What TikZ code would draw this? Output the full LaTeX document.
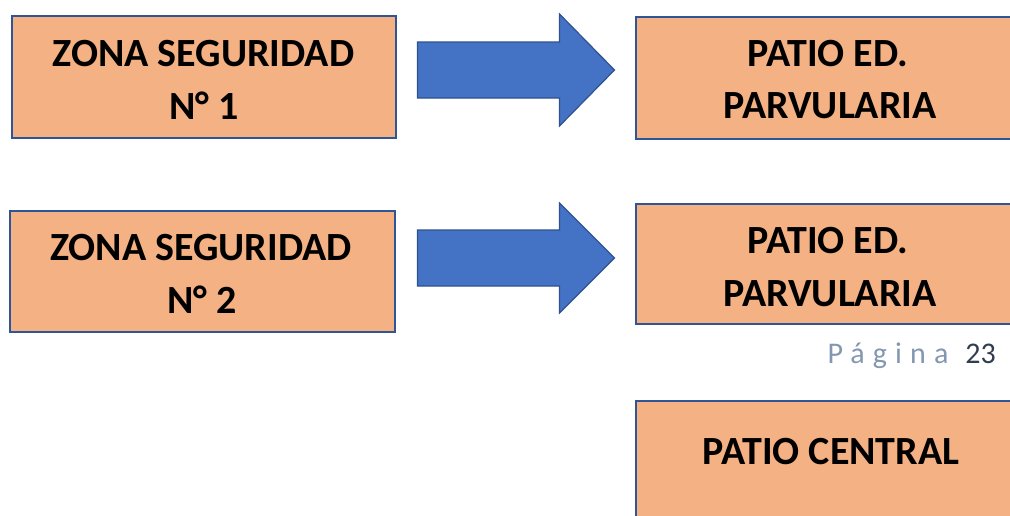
\documentclass[tikz,border=0pt]{standalone}
\usepackage{fontspec}
\setmainfont{Carlito}
\definecolor{boxfill}{HTML}{F4B183}
\definecolor{boxline}{HTML}{2F5597}
\definecolor{arrfill}{HTML}{4472C4}
\definecolor{arrline}{HTML}{2F528F}
\definecolor{pgray}{HTML}{8497B0}
\definecolor{pdark}{HTML}{323E4F}
\begin{document}
\begin{tikzpicture}[x=1pt,y=-1pt,
  zbox/.style={draw=boxline, fill=boxfill, line width=2pt, rectangle, inner sep=0pt},
  ztext/.style={inner sep=0pt, anchor=base, font=\fontsize{40}{52}\selectfont\bfseries},
  bigarrow/.style={draw=arrline, fill=arrfill, line width=1.2pt, line join=miter}]
\useasboundingbox (0,0) rectangle (1010,515);
\clip (0,0) rectangle (1010,515);
% left boxes
\node[zbox, minimum width=384pt, minimum height=122pt] (z1) at (204,77) {};
\node[ztext] (z1a) at (203.5,66.7) {ZONA SEGURIDAD};
\node[ztext] (z1b) at (204,119) {N° 1};
\node[zbox, minimum width=385pt, minimum height=121pt] (z2) at (202,271) {};
\node[ztext] (z2a) at (201,260) {ZONA SEGURIDAD};
\node[ztext] (z2b) at (202,313) {N° 2};
% right boxes
\node[zbox, minimum width=386pt, minimum height=122pt] (p1) at (829,78) {};
\node[ztext] (p1a) at (828,66.7) {PATIO ED.};
\node[ztext] (p1b) at (830,118.3) {PARVULARIA};
\node[zbox, minimum width=386pt, minimum height=120pt] (p2) at (829,264) {};
\node[ztext] (p2a) at (828,253.3) {PATIO ED.};
\node[ztext] (p2b) at (830,306.7) {PARVULARIA};
\node[zbox, minimum width=386pt, minimum height=124pt] (p3) at (829,463) {};
\node[ztext] (p3t) at (831,464) {PATIO CENTRAL};
% arrows
\draw[bigarrow] (417.5,42) -- (559.5,42) -- (559.5,14) -- (614.5,70) -- (559.5,126) -- (559.5,98) -- (417.5,98) -- cycle;
\draw[bigarrow] (417.5,230) -- (559.5,230) -- (559.5,203) -- (614.5,258) -- (559.5,313) -- (559.5,286) -- (417.5,286) -- cycle;
% page number
\node[inner sep=0pt, anchor=base east, font=\fontsize{30}{34}\selectfont] (pg) at (996,363.3)
  {{\addfontfeature{LetterSpace=27}\color{pgray}Página}\hspace{17pt}{\color{pdark}23}};
\end{tikzpicture}
\end{document}
